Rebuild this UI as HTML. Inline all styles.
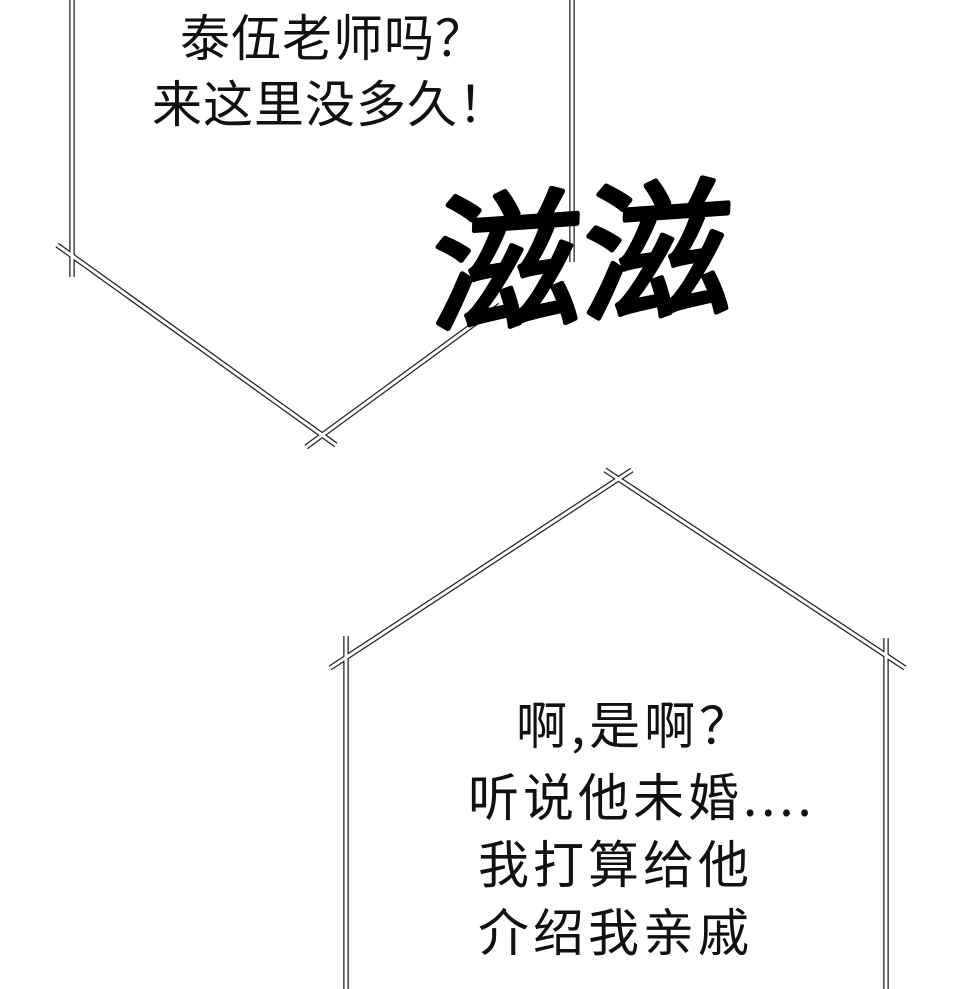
<!DOCTYPE html>
<html><head><meta charset="utf-8"><style>
html,body{margin:0;padding:0;background:#fff;}
body{width:960px;height:989px;position:relative;overflow:hidden;}
svg{position:absolute;left:0;top:0;}
.t{position:absolute;font-family:"Noto Sans CJK SC",sans-serif;color:#111;white-space:nowrap;line-height:1;}
.a{font-size:50px;letter-spacing:1px;}
.b{font-size:51px;letter-spacing:4px;}
</style></head><body>
<svg width="960" height="989" viewBox="0 0 960 989">
<g stroke-linecap="butt" fill="none">
<g stroke="#222" stroke-width="5.5">
<line x1="72" y1="0" x2="72" y2="277"/>
<line x1="572" y1="0" x2="572" y2="262"/>
<line x1="57" y1="245" x2="336" y2="445"/>
<line x1="306" y1="447" x2="500" y2="305"/>
<line x1="330" y1="668" x2="632" y2="470"/>
<line x1="605" y1="470" x2="905" y2="668"/>
<line x1="346" y1="636" x2="346" y2="989"/>
<line x1="886" y1="638" x2="886" y2="989"/>
</g>
<g stroke="#fff" stroke-width="3">
<line x1="72" y1="0" x2="72" y2="277"/>
<line x1="572" y1="0" x2="572" y2="262"/>
<line x1="57" y1="245" x2="336" y2="445"/>
<line x1="306" y1="447" x2="500" y2="305"/>
<line x1="330" y1="668" x2="632" y2="470"/>
<line x1="605" y1="470" x2="905" y2="668"/>
<line x1="346" y1="636" x2="346" y2="989"/>
<line x1="886" y1="638" x2="886" y2="989"/>
</g>
</g>
<g transform="translate(430,322) skewX(-6) rotate(-4)">
<text x="0" y="0" font-family="'Noto Sans CJK SC',sans-serif" font-weight="400" font-size="150" fill="#000" stroke="#000" stroke-width="5" stroke-linejoin="round" stroke-linecap="round" textLength="300" lengthAdjust="spacingAndGlyphs">滋滋</text>
</g>
</svg>
<div class="t a" style="left:180px;top:10px;">泰伍老师吗？</div>
<div class="t a" style="left:152px;top:76px;">来这里没多久！</div>
<div class="t b" style="left:516px;top:697px;">啊,是啊？</div>
<div class="t b" style="left:468px;top:769px;">听说他未婚....</div>
<div class="t b" style="left:478px;top:836px;">我打算给他</div>
<div class="t b" style="left:478px;top:904px;">介绍我亲戚</div>
</body></html>
